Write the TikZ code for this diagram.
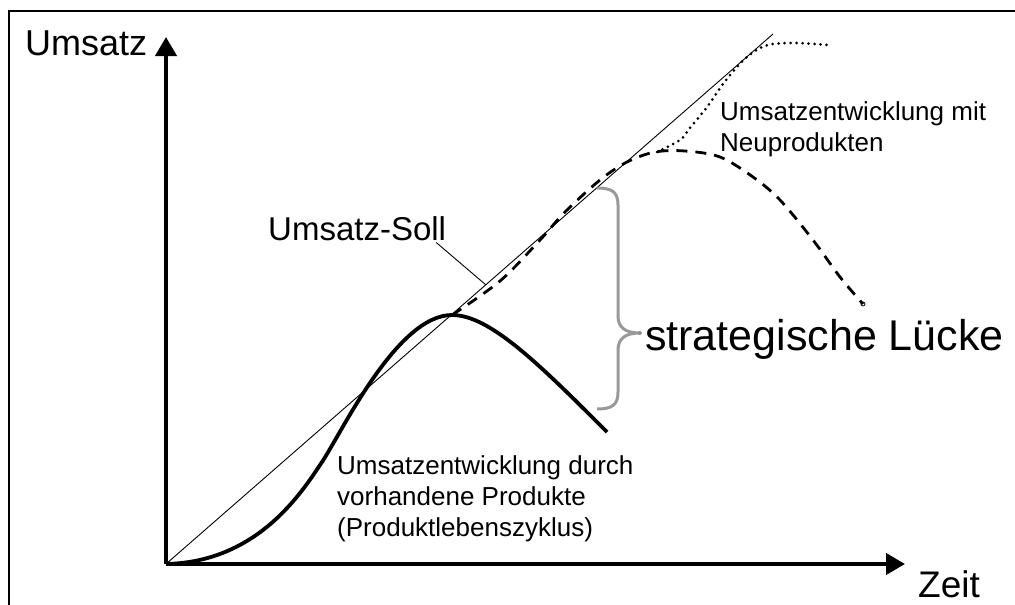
\documentclass[tikz,border=0pt]{standalone}
\usepackage{fontspec}
\setmainfont{Liberation Sans}
\usetikzlibrary{arrows.meta}

\begin{document}
\begin{tikzpicture}[x=1pt,y=-1pt,>={Triangle[length=19pt,width=21pt]},
  axis/.style={line width=4pt},
  soll/.style={line width=0.9pt},
  alt/.style={line width=3.8pt},
  neu/.style={line width=2.8pt,dash pattern=on 11pt off 8pt},
  punkt/.style={line width=3pt,line cap=round,dash pattern=on 0pt off 6pt},
  klammer/.style={line width=3pt,color=gray!80,line join=round},
  lbl/.style={inner sep=0pt,font=\fontsize{26}{31}\selectfont,align=left}]
  \useasboundingbox (0,0) rectangle (1015,605);
  % frame
  \draw[line width=1.8pt] (9,605) -- (9,11) -- (1015,11);

  \coordinate (origin) at (166,564);
  \coordinate (ytip)   at (166,37);
  \coordinate (xtip)   at (905,564);
  \coordinate (sollend) at (773,34);
  \coordinate (peak)   at (452,315);
  \coordinate (altend) at (607,432);
  \coordinate (dashend) at (863,304);
  \coordinate (tip)    at (640,333);

  \node[inner sep=0pt,anchor=base west,font=\fontsize{36}{36}\selectfont] (umsatz) at (25,55) {Umsatz};
  \node[inner sep=0pt,anchor=base west,font=\fontsize{37}{37}\selectfont] (zeit) at (918,597) {Zeit};
  \node[inner sep=0pt,anchor=base west,font=\fontsize{33}{33}\selectfont] (soll) at (268,240) {Umsatz-Soll};
  \node[inner sep=0pt,anchor=base west,font=\fontsize{43}{43}\selectfont] (luecke) at (645,350) {strategische Lücke};
  \node[lbl,anchor=north west] (neulbl) at (720,101) {Umsatzentwicklung mit\\Neuprodukten};
  \node[lbl,anchor=north west] (altlbl) at (337,455) {Umsatzentwicklung durch\\vorhandene Produkte\\(Produktlebenszyklus)};

  % axes
  \draw[axis,->] (origin) -- (ytip);
  \draw[axis,->] (origin) -- (xtip);

  % target line
  \draw[soll] (origin) -- (sollend);
  \draw[soll] (soll.south east) ++(-10,2) -- (486,285);

  % existing products
  \draw[alt] (origin) .. controls (258,562) and (302,492) .. (322,462)
    .. controls (342,432) and (397,315) .. (peak)
    .. controls (490,315) and (540,365) .. (altend);

  % new products
  \draw[neu] plot[smooth,tension=0.55] coordinates {(peak) (500,281) (540,240) (565,212)
    (600,180) (627,162) (655,152) (685,151) (720,157) (753,177) (780,200) (813,240)
    (840,277) (dashend)};
  \draw[line width=0.8pt] (dashend) circle (2pt);
  \draw[punkt] plot[smooth,tension=0.55] coordinates {(657,152) (680,140) (690,128) (707,107)
    (723,84) (737,67) (747,57) (760,48) (773,44) (797,43) (828,45)};

  % gap
  \draw[klammer] (597,188) .. controls (612,188) and (618,192) .. (618,205) -- (618,316)
    .. controls (618,328) and (626,333) .. (tip)
    .. controls (626,333) and (618,338) .. (618,350) -- (618,392)
    .. controls (618,405) and (612,409) .. (597,409);
  \draw[gray,line width=0.6pt] (tip) circle (1.8pt);
\end{tikzpicture}
\end{document}
